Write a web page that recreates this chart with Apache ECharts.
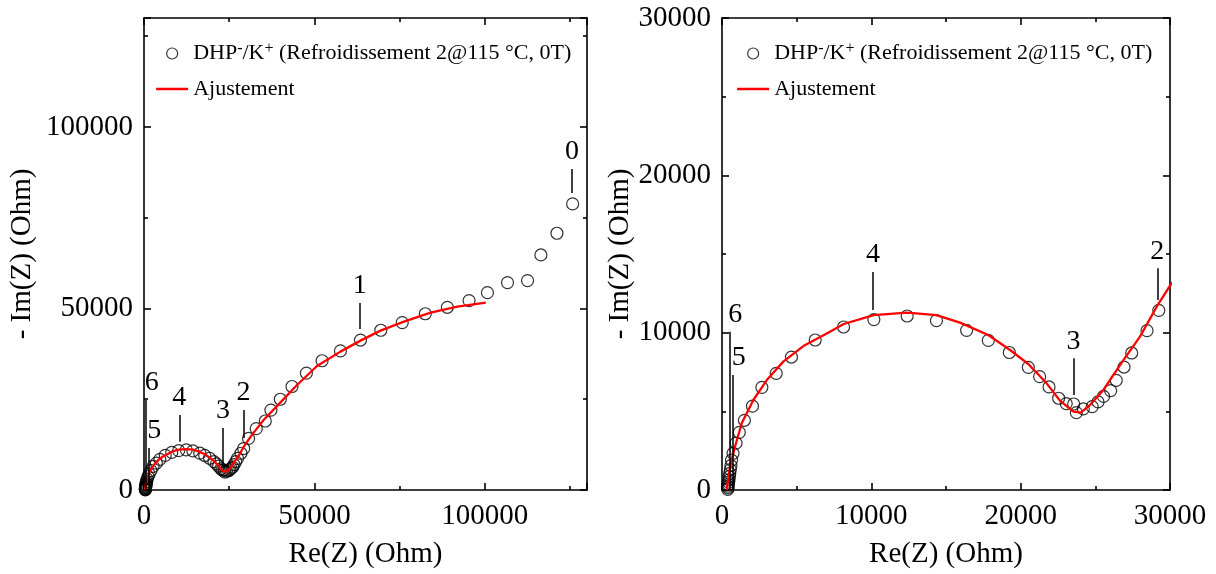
<!DOCTYPE html>
<html><head><meta charset="utf-8">
<script src="https://cdn.jsdelivr.net/npm/echarts@6/dist/echarts.min.js"></script>
<style>html,body{margin:0;padding:0;background:#fff}#c{width:1216px;height:574px}</style>
</head><body><div id="c"></div>
<script>
// Measured impedance (Re, -Im) in Ohm
const points = [
  [390,40],[400,130],[405,240],[420,360],[440,500],[470,650],[495,860],[520,1060],
  [560,1300],[600,1550],[640,1900],[740,2330],[940,2980],[1160,3665],[1500,4430],
  [2040,5330],[2670,6525],[3630,7415],[4650,8450],[6240,9534],[8140,10360],
  [10170,10830],[12400,11060],[14360,10763],[16380,10150],[17834,9510],[19241,8740],
  [20513,7796],[21270,7203],[21900,6550],[22545,5830],[23050,5490],[23550,5466],
  [23730,4915],[24196,5160],[24790,5296],[25180,5600],[25550,5950],[26025,6313],
  [26400,6970],[26920,7815],[27434,8710],[28460,10127],[29250,11420],
  [30690,14200],[32940,16900],[35590,19000],[37250,22000],[40000,25000],
  [43430,28500],[47650,32200],[52250,35600],[57650,38300],[63530,41300],
  [69500,44000],[75780,46100],[82550,48550],[89020,50320],[95390,52160],
  [100780,54360],[106670,57120],[112550,57670],[116470,64740],[121180,70710],
  [125780,78790]
];
// Fitted curve
const fit = [
  [320,0],[400,600],[536,1480],[870,2750],[1320,4240],[2100,5720],[3000,6990],
  [4100,8160],[5450,9150],[7230,10060],[8150,10550],[10160,11120],[12390,11270],
  [14350,11120],[15940,10640],[17830,9850],[19290,8900],[20510,8010],[21740,6780],
  [22630,5680],[23530,4980],[24020,4915],[24640,5400],[25540,6360],[26880,8260],
  [27990,9750],[29110,11650],[29960,12920],[32000,15600],[35100,19280],
  [40000,24060],[44900,28930],[50780,34160],[57650,38110],[63530,41140],
  [69410,43890],[76280,46370],[84120,48850],[91960,50500],[100300,51600]
];
// Frequency markers: [label, x, yBottom, yTop]
const marksLeft = [
  ['0',125600,81800,88400],['1',63300,44350,51500],['2',29200,14300,22000],
  ['3',23150,6420,17080],['4',10380,13300,20660],['5',1260,0,11570],['6',500,0,24800]
];
const marksRight = [
  ['4',10110,11440,13860],['3',23530,6040,8370],['2',29150,12080,14090],
  ['5',716,0,7310],['6',490,0,10060]
];
const legendSeries = 'DHP';
const legendFit = 'Ajustement';

const FONT = 'Liberation Serif';
const black = '#000';

function axisCommon(max, interval, showLabel) {
  return {
    type: 'value', min: 0, max: max, interval: interval,
    axisLine: {show: true, onZero: false, lineStyle: {color: black, width: 1.6}},
    axisTick: {show: true, inside: true, length: 7, lineStyle: {color: black, width: 1.6}},
    minorTick: {show: true, splitNumber: 2, length: 4, lineStyle: {color: black, width: 1.6}},
    splitLine: {show: false},
    axisLabel: {show: showLabel, showMaxLabel: max === 30000, fontFamily: FONT, fontSize: 29, color: black, margin: 11,
                formatter: v => String(v)},
    nameTextStyle: {fontFamily: FONT, fontSize: 29, color: black},
    nameLocation: 'middle'
  };
}
function xAx(grid, max, interval, pos) {
  const a = axisCommon(max, interval, pos === 'bottom');
  a.gridIndex = grid; a.position = pos;
  if (pos === 'bottom') { a.name = 'Re(Z) (Ohm)'; a.nameGap = 50; a.axisLabel.margin = 12; }
  return a;
}
function yAx(grid, max, interval, pos, gap) {
  const a = axisCommon(max, interval, pos === 'left');
  a.gridIndex = grid; a.position = pos;
  if (pos === 'left') { a.name = '- Im(Z) (Ohm)'; a.nameGap = gap; }
  return a;
}
function markerSeries(xi, yi, marks) {
  return {
    type: 'line', xAxisIndex: xi, yAxisIndex: yi, data: [], silent: true, z: 4,
    markLine: {
      silent: true, symbol: ['none', 'none'], animation: false,
      lineStyle: {color: black, width: 1.5, type: 'solid'},
      label: {show: true, position: 'end', distance: 3, fontFamily: FONT, fontSize: 28, color: black},
      data: marks.map(m => [
        {coord: [m[1], m[2]]},
        {coord: [m[1], m[3]], label: {formatter: m[0], offset: (m[0] === '5' || m[0] === '6') ? [6, 0] : [0, 0]}}
      ])
    }
  };
}
const scatterStyle = {color: 'rgba(0,0,0,0)', borderColor: black, borderWidth: 1.2};
function legendFor(left) {
  return {
    left: left, top: 41, orient: 'vertical', itemWidth: 32, itemHeight: 11, itemGap: 12,
    padding: 0, selectedMode: false,
    data: [
      {name: legendSeries, icon: 'circle', itemStyle: scatterStyle},
      {name: legendFit, itemStyle: {opacity: 0}, lineStyle: {color: '#ff0000', width: 2.3}}
    ],
    formatter: function (n) {
      if (n === legendSeries) return '{t|DHP}{s|-}{t|/K}{s|+}{t| (Refroidissement 2@115 °C, 0T)}';
      return '{t|' + n + '}';
    },
    textStyle: {
      fontFamily: FONT, fontSize: 22, color: black,
      rich: {
        t: {fontFamily: FONT, fontSize: 22, color: black, lineHeight: 25},
        s: {fontFamily: FONT, fontSize: 16, color: black, lineHeight: 25, verticalAlign: 'top', padding: [0, 0, 9, 0]}
      }
    }
  };
}

const chart = echarts.init(document.getElementById('c'), null, {renderer: 'canvas'});
chart.setOption({
  animation: false,
  backgroundColor: '#fff',
  grid: [
    {left: 144, right: 629, top: 18, bottom: 84},
    {left: 722, right: 46, top: 18, bottom: 84}
  ],
  legend: [legendFor(155), legendFor(736)],
  xAxis: [xAx(0, 130000, 50000, 'bottom'), xAx(0, 130000, 50000, 'top'),
          xAx(1, 30000, 10000, 'bottom'), xAx(1, 30000, 10000, 'top')],
  yAxis: [yAx(0, 130000, 50000, 'left', 107), yAx(0, 130000, 50000, 'right'),
          yAx(1, 30000, 10000, 'left', 75), yAx(1, 30000, 10000, 'right')],
  series: [
    {name: legendSeries, type: 'scatter', xAxisIndex: 0, yAxisIndex: 0, data: points,
     symbol: 'circle', symbolSize: 12, itemStyle: scatterStyle, z: 2},
    {name: legendFit, type: 'line', xAxisIndex: 0, yAxisIndex: 0, data: fit,
     symbol: 'none', showSymbol: false, lineStyle: {color: '#ff0000', width: 2.3}, itemStyle: {color: '#ff0000'}, z: 3},
    markerSeries(0, 0, marksLeft),
    {name: legendSeries, type: 'scatter', xAxisIndex: 2, yAxisIndex: 2, data: points,
     symbol: 'circle', symbolSize: 12, itemStyle: scatterStyle, z: 2},
    {name: legendFit, type: 'line', xAxisIndex: 2, yAxisIndex: 2, data: fit,
     symbol: 'none', showSymbol: false, lineStyle: {color: '#ff0000', width: 2.3}, itemStyle: {color: '#ff0000'}, z: 3},
    markerSeries(2, 2, marksRight)
  ]
});
</script></body></html>
